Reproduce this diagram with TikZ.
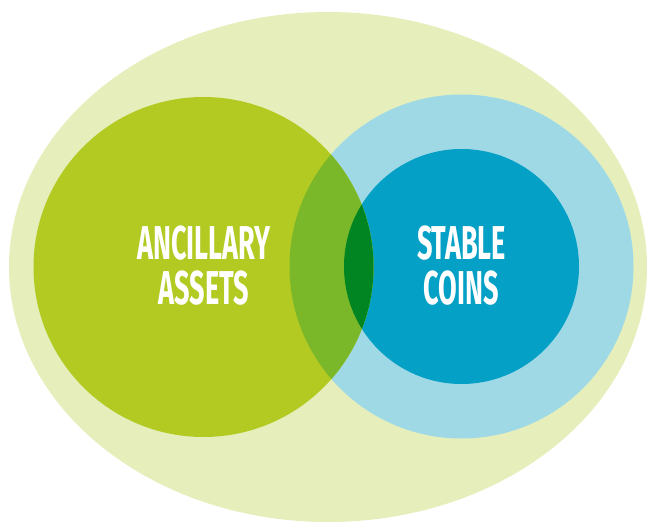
\documentclass[tikz,border=0pt]{standalone}
\usepackage{fontspec}
\newfontfamily\condfont[FakeStretch=0.57]{Fira Sans}
\definecolor{paleback}{HTML}{E6EFBB}
\definecolor{leafgreen}{HTML}{B2CA22}
\definecolor{skyblue}{HTML}{9FD9E6}
\definecolor{deepblue}{HTML}{04A0C6}
\definecolor{mixgreen}{HTML}{7AB82A}
\definecolor{darkmix}{HTML}{008522}
\tikzset{
  setlabel/.style={text=white, align=center, inner sep=0pt,
    font={\condfont\bfseries\fontsize{47.5}{45}\selectfont}}
}

\begin{document}
\begin{tikzpicture}[x=1pt, y=1pt]
    \useasboundingbox (0,0) rectangle (647,523);
    \clip (0,0) rectangle (647,523);
    \coordinate (anc) at (203.5,256);
    \coordinate (stc) at (461.5,256.5);

    \fill [color = paleback] (328,256) ellipse [x radius=319, y radius=255];
    \fill [color = skyblue] (stc) circle [radius=172];
    \fill [color = deepblue] (stc) circle [radius=117.5];
    \fill [color = leafgreen] (anc) circle [radius=170];

    % overlaps
    \begin{scope}
        \clip (anc) circle [radius=170];
        \fill [color = mixgreen] (stc) circle [radius=172];
        \fill [color = darkmix] (stc) circle [radius=117.5];
    \end{scope}

    \node[setlabel] (ancillary) at (204,257.5) {ANCILLARY\\ASSETS};
    \node[setlabel] (stable) at (461.5,257.5) {STABLE\\COINS};
\end{tikzpicture}
\end{document}
